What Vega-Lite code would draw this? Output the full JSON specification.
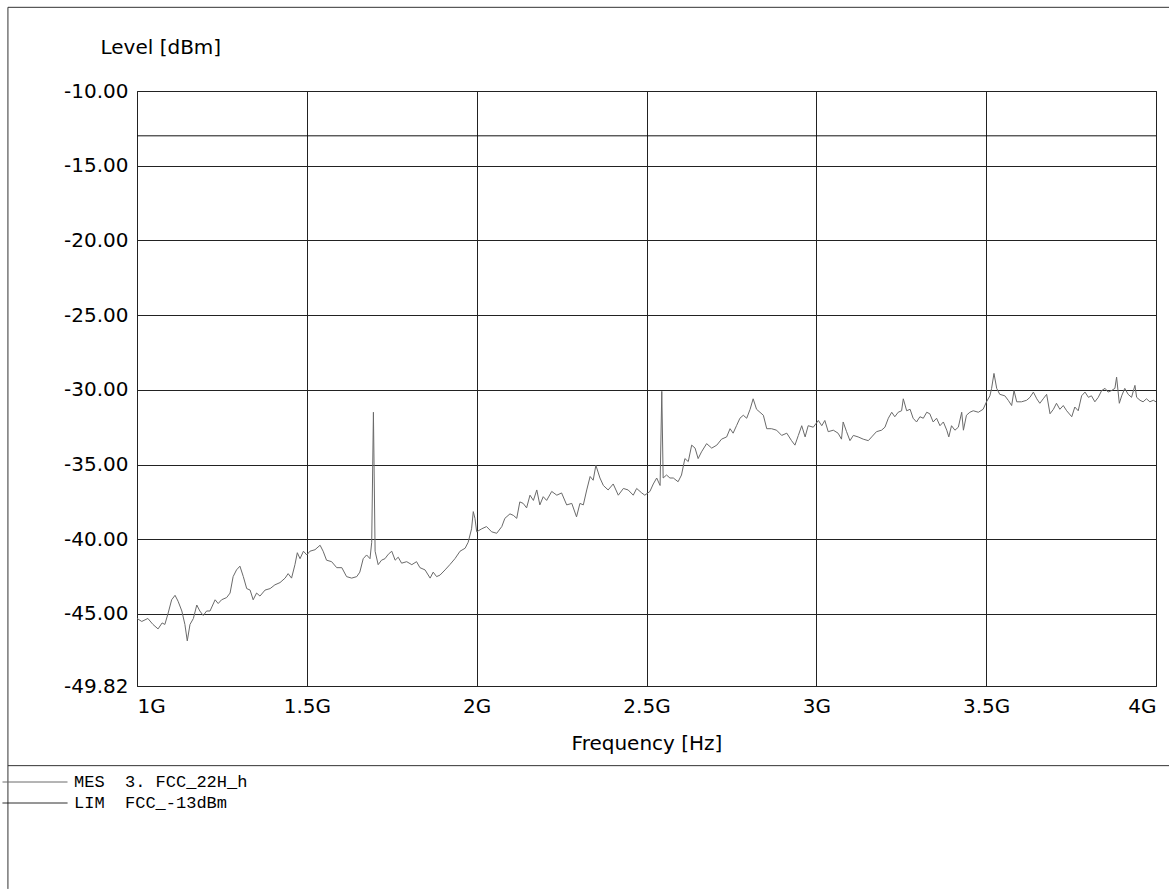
{
  "$schema": "https://vega.github.io/schema/vega-lite/v6.json",
  "width": 1019,
  "height": 595,
  "autosize": "none",
  "padding": {"left": 137, "top": 91, "right": 13, "bottom": 204},
  "background": "white",
  "config": {
    "view": {"stroke": "#222", "strokeWidth": 1},
    "axis": {
      "labelFont": "DejaVu Sans", "labelFontSize": 20, "labelColor": "#000",
      "titleFont": "DejaVu Sans", "titleFontSize": 20, "titleFontWeight": "normal", "titleColor": "#000",
      "ticks": false, "domain": false, "grid": true, "gridColor": "#222", "gridOpacity": 1, "gridWidth": 1
    },
    "legend": {
      "orient": "none", "title": null, "padding": 0,
      "symbolType": "stroke", "symbolSize": 4225, "symbolStrokeWidth": 1,
      "labelFont": "Liberation Mono", "labelFontSize": 17, "labelColor": "#000",
      "labelOffset": 6, "labelLimit": 0
    }
  },
  "datasets": {
    "lim": [
      {"f": 1.0, "level": -13},
      {"f": 4.0, "level": -13}
    ],
    "mes": [
      {"f": 1.000, "level": -45.3},
      {"f": 1.014, "level": -45.5},
      {"f": 1.032, "level": -45.3},
      {"f": 1.047, "level": -45.7},
      {"f": 1.062, "level": -46.0},
      {"f": 1.074, "level": -45.6},
      {"f": 1.082, "level": -45.7},
      {"f": 1.091, "level": -45.0},
      {"f": 1.102, "level": -44.05},
      {"f": 1.112, "level": -43.75},
      {"f": 1.121, "level": -44.15},
      {"f": 1.132, "level": -44.8},
      {"f": 1.141, "level": -45.7},
      {"f": 1.148, "level": -46.8},
      {"f": 1.156, "level": -45.7},
      {"f": 1.166, "level": -45.3},
      {"f": 1.176, "level": -44.4},
      {"f": 1.185, "level": -44.8},
      {"f": 1.195, "level": -45.1},
      {"f": 1.205, "level": -44.8},
      {"f": 1.215, "level": -44.8},
      {"f": 1.230, "level": -44.05},
      {"f": 1.239, "level": -44.3},
      {"f": 1.249, "level": -44.05},
      {"f": 1.264, "level": -43.9},
      {"f": 1.274, "level": -43.6},
      {"f": 1.283, "level": -42.5},
      {"f": 1.293, "level": -42.05},
      {"f": 1.303, "level": -41.8},
      {"f": 1.313, "level": -42.5},
      {"f": 1.323, "level": -43.3},
      {"f": 1.333, "level": -43.4},
      {"f": 1.342, "level": -44.05},
      {"f": 1.352, "level": -43.6},
      {"f": 1.362, "level": -43.8},
      {"f": 1.377, "level": -43.4},
      {"f": 1.392, "level": -43.3},
      {"f": 1.406, "level": -43.05},
      {"f": 1.421, "level": -42.9},
      {"f": 1.436, "level": -42.6},
      {"f": 1.445, "level": -42.3},
      {"f": 1.455, "level": -42.6},
      {"f": 1.465, "level": -41.7},
      {"f": 1.472, "level": -40.9},
      {"f": 1.480, "level": -41.3},
      {"f": 1.490, "level": -40.8},
      {"f": 1.500, "level": -41.05},
      {"f": 1.509, "level": -40.8},
      {"f": 1.524, "level": -40.7},
      {"f": 1.539, "level": -40.4},
      {"f": 1.548, "level": -40.8},
      {"f": 1.558, "level": -41.4},
      {"f": 1.573, "level": -41.5},
      {"f": 1.588, "level": -41.9},
      {"f": 1.603, "level": -41.9},
      {"f": 1.617, "level": -42.5},
      {"f": 1.632, "level": -42.6},
      {"f": 1.647, "level": -42.5},
      {"f": 1.656, "level": -42.2},
      {"f": 1.666, "level": -41.3},
      {"f": 1.676, "level": -41.05},
      {"f": 1.686, "level": -41.3},
      {"f": 1.691, "level": -40.2},
      {"f": 1.696, "level": -31.5},
      {"f": 1.701, "level": -40.8},
      {"f": 1.710, "level": -41.7},
      {"f": 1.720, "level": -41.4},
      {"f": 1.730, "level": -41.3},
      {"f": 1.740, "level": -41.0},
      {"f": 1.750, "level": -40.8},
      {"f": 1.760, "level": -41.4},
      {"f": 1.769, "level": -41.2},
      {"f": 1.779, "level": -41.6},
      {"f": 1.794, "level": -41.5},
      {"f": 1.809, "level": -41.7},
      {"f": 1.823, "level": -41.5},
      {"f": 1.833, "level": -41.9},
      {"f": 1.848, "level": -42.05},
      {"f": 1.863, "level": -42.6},
      {"f": 1.872, "level": -42.2},
      {"f": 1.882, "level": -42.5},
      {"f": 1.892, "level": -42.4},
      {"f": 1.907, "level": -42.05},
      {"f": 1.921, "level": -41.7},
      {"f": 1.936, "level": -41.3},
      {"f": 1.951, "level": -40.8},
      {"f": 1.966, "level": -40.6},
      {"f": 1.975, "level": -40.2},
      {"f": 1.985, "level": -39.3},
      {"f": 1.990, "level": -38.15},
      {"f": 1.995, "level": -38.6},
      {"f": 2.000, "level": -39.5},
      {"f": 2.015, "level": -39.3},
      {"f": 2.029, "level": -39.15},
      {"f": 2.044, "level": -39.5},
      {"f": 2.059, "level": -39.6},
      {"f": 2.074, "level": -39.15},
      {"f": 2.083, "level": -38.6},
      {"f": 2.098, "level": -38.3},
      {"f": 2.108, "level": -38.4},
      {"f": 2.118, "level": -38.6},
      {"f": 2.127, "level": -37.5},
      {"f": 2.137, "level": -37.6},
      {"f": 2.147, "level": -37.9},
      {"f": 2.157, "level": -37.05},
      {"f": 2.167, "level": -37.4},
      {"f": 2.177, "level": -36.7},
      {"f": 2.186, "level": -37.7},
      {"f": 2.196, "level": -37.15},
      {"f": 2.206, "level": -37.4},
      {"f": 2.221, "level": -36.8},
      {"f": 2.236, "level": -37.05},
      {"f": 2.250, "level": -36.9},
      {"f": 2.265, "level": -37.7},
      {"f": 2.280, "level": -37.6},
      {"f": 2.294, "level": -38.5},
      {"f": 2.304, "level": -37.6},
      {"f": 2.314, "level": -37.7},
      {"f": 2.324, "level": -36.7},
      {"f": 2.334, "level": -35.8},
      {"f": 2.343, "level": -36.05},
      {"f": 2.351, "level": -35.05},
      {"f": 2.363, "level": -35.9},
      {"f": 2.373, "level": -36.4},
      {"f": 2.387, "level": -36.7},
      {"f": 2.402, "level": -36.3},
      {"f": 2.417, "level": -37.05},
      {"f": 2.432, "level": -36.6},
      {"f": 2.446, "level": -36.7},
      {"f": 2.461, "level": -37.05},
      {"f": 2.471, "level": -36.6},
      {"f": 2.486, "level": -36.9},
      {"f": 2.495, "level": -37.05},
      {"f": 2.510, "level": -36.8},
      {"f": 2.520, "level": -36.3},
      {"f": 2.530, "level": -35.9},
      {"f": 2.540, "level": -36.4},
      {"f": 2.545, "level": -30.1},
      {"f": 2.549, "level": -35.9},
      {"f": 2.559, "level": -35.7},
      {"f": 2.569, "level": -35.9},
      {"f": 2.579, "level": -35.9},
      {"f": 2.593, "level": -36.15},
      {"f": 2.603, "level": -35.7},
      {"f": 2.613, "level": -34.6},
      {"f": 2.623, "level": -34.8},
      {"f": 2.633, "level": -33.7},
      {"f": 2.643, "level": -33.9},
      {"f": 2.652, "level": -34.6},
      {"f": 2.662, "level": -34.15},
      {"f": 2.677, "level": -33.6},
      {"f": 2.692, "level": -33.9},
      {"f": 2.707, "level": -33.7},
      {"f": 2.721, "level": -33.3},
      {"f": 2.736, "level": -33.15},
      {"f": 2.746, "level": -32.6},
      {"f": 2.755, "level": -32.9},
      {"f": 2.765, "level": -32.4},
      {"f": 2.775, "level": -31.9},
      {"f": 2.785, "level": -31.7},
      {"f": 2.795, "level": -31.9},
      {"f": 2.805, "level": -31.3},
      {"f": 2.814, "level": -30.6},
      {"f": 2.824, "level": -31.3},
      {"f": 2.834, "level": -31.5},
      {"f": 2.844, "level": -31.7},
      {"f": 2.854, "level": -32.6},
      {"f": 2.868, "level": -32.6},
      {"f": 2.883, "level": -32.7},
      {"f": 2.898, "level": -33.05},
      {"f": 2.913, "level": -32.9},
      {"f": 2.927, "level": -33.4},
      {"f": 2.937, "level": -33.7},
      {"f": 2.947, "level": -33.05},
      {"f": 2.957, "level": -32.4},
      {"f": 2.967, "level": -33.15},
      {"f": 2.976, "level": -32.4},
      {"f": 2.991, "level": -32.5},
      {"f": 3.006, "level": -32.05},
      {"f": 3.016, "level": -32.4},
      {"f": 3.025, "level": -32.05},
      {"f": 3.035, "level": -32.8},
      {"f": 3.050, "level": -32.7},
      {"f": 3.064, "level": -32.9},
      {"f": 3.074, "level": -33.3},
      {"f": 3.079, "level": -32.15},
      {"f": 3.089, "level": -32.8},
      {"f": 3.099, "level": -33.4},
      {"f": 3.109, "level": -33.05},
      {"f": 3.123, "level": -33.15},
      {"f": 3.138, "level": -33.3},
      {"f": 3.153, "level": -33.4},
      {"f": 3.163, "level": -33.15},
      {"f": 3.177, "level": -32.8},
      {"f": 3.192, "level": -32.7},
      {"f": 3.202, "level": -32.5},
      {"f": 3.212, "level": -31.9},
      {"f": 3.222, "level": -31.5},
      {"f": 3.231, "level": -31.8},
      {"f": 3.241, "level": -31.5},
      {"f": 3.251, "level": -31.4},
      {"f": 3.256, "level": -30.6},
      {"f": 3.266, "level": -31.4},
      {"f": 3.276, "level": -31.3},
      {"f": 3.285, "level": -31.9},
      {"f": 3.295, "level": -32.15},
      {"f": 3.305, "level": -31.8},
      {"f": 3.315, "level": -31.9},
      {"f": 3.325, "level": -31.5},
      {"f": 3.334, "level": -31.6},
      {"f": 3.344, "level": -32.15},
      {"f": 3.354, "level": -31.9},
      {"f": 3.364, "level": -32.4},
      {"f": 3.374, "level": -32.15},
      {"f": 3.384, "level": -32.7},
      {"f": 3.390, "level": -33.15},
      {"f": 3.398, "level": -32.4},
      {"f": 3.408, "level": -32.7},
      {"f": 3.418, "level": -32.5},
      {"f": 3.428, "level": -31.5},
      {"f": 3.433, "level": -32.7},
      {"f": 3.442, "level": -31.7},
      {"f": 3.452, "level": -31.5},
      {"f": 3.462, "level": -31.4},
      {"f": 3.477, "level": -31.5},
      {"f": 3.491, "level": -31.3},
      {"f": 3.501, "level": -30.8},
      {"f": 3.511, "level": -30.4},
      {"f": 3.516, "level": -29.9},
      {"f": 3.523, "level": -28.9},
      {"f": 3.531, "level": -29.9},
      {"f": 3.540, "level": -30.3},
      {"f": 3.555, "level": -30.4},
      {"f": 3.565, "level": -30.7},
      {"f": 3.575, "level": -31.05},
      {"f": 3.582, "level": -30.05},
      {"f": 3.590, "level": -30.8},
      {"f": 3.604, "level": -30.8},
      {"f": 3.619, "level": -30.7},
      {"f": 3.629, "level": -30.5},
      {"f": 3.639, "level": -30.15},
      {"f": 3.649, "level": -30.6},
      {"f": 3.658, "level": -30.9},
      {"f": 3.668, "level": -30.6},
      {"f": 3.678, "level": -30.3},
      {"f": 3.688, "level": -31.6},
      {"f": 3.698, "level": -31.3},
      {"f": 3.707, "level": -30.9},
      {"f": 3.717, "level": -31.3},
      {"f": 3.727, "level": -31.05},
      {"f": 3.737, "level": -31.4},
      {"f": 3.752, "level": -31.8},
      {"f": 3.761, "level": -31.15},
      {"f": 3.771, "level": -31.4},
      {"f": 3.781, "level": -30.4},
      {"f": 3.791, "level": -30.15},
      {"f": 3.801, "level": -30.5},
      {"f": 3.810, "level": -30.4},
      {"f": 3.820, "level": -30.8},
      {"f": 3.830, "level": -30.5},
      {"f": 3.840, "level": -30.05},
      {"f": 3.850, "level": -29.9},
      {"f": 3.859, "level": -30.15},
      {"f": 3.869, "level": -30.05},
      {"f": 3.879, "level": -29.9},
      {"f": 3.884, "level": -29.15},
      {"f": 3.892, "level": -30.9},
      {"f": 3.899, "level": -30.4},
      {"f": 3.908, "level": -29.9},
      {"f": 3.918, "level": -30.3},
      {"f": 3.928, "level": -30.5},
      {"f": 3.938, "level": -29.7},
      {"f": 3.943, "level": -30.5},
      {"f": 3.953, "level": -30.7},
      {"f": 3.962, "level": -30.8},
      {"f": 3.972, "level": -30.6},
      {"f": 3.982, "level": -30.8},
      {"f": 3.992, "level": -30.7},
      {"f": 4.000, "level": -30.8}
    ]
  },
  "layer": [
    {
      "data": {"name": "lim"},
      "mark": {"type": "line", "strokeWidth": 1, "color": "#111111", "clip": true},
      "encoding": {
        "x": {
          "field": "f", "type": "quantitative",
          "scale": {"domain": [1, 4], "nice": false, "zero": false},
          "axis": {
            "values": [1, 1.5, 2, 2.5, 3, 3.5, 4],
            "labelExpr": "datum.value + 'G'",
            "labelFlush": true,
            "labelPadding": 10,
            "title": "Frequency [Hz]",
            "titleY": 57,
            "titleBaseline": "middle"
          }
        },
        "y": {
          "field": "level", "type": "quantitative",
          "scale": {"domain": [-49.82, -10], "nice": false, "zero": false},
          "axis": {
            "values": [-10, -15, -20, -25, -30, -35, -40, -45, -49.82],
            "labelExpr": "replace(format(datum.value, '.2f'), '\u2212', '-')",
            "labelPadding": 9,
            "labelFlush": false,
            "title": "Level [dBm]",
            "titleAngle": 0,
            "titleX": -37,
            "titleY": -44,
            "titleAlign": "left",
            "titleBaseline": "middle"
          }
        },
        "strokeDash": {
          "datum": "LIM",
          "scale": {"domain": ["LIM"], "range": [[1, 0]]},
          "legend": {
            "legendX": -135,
            "legendY": 679,
            "symbolStrokeColor": "#111111",
            "labelExpr": "'LIM\u00a0\u00a0FCC_-13dBm'"
          }
        }
      }
    },
    {
      "data": {"name": "mes"},
      "mark": {"type": "line", "strokeWidth": 1, "clip": true},
      "encoding": {
        "x": {"field": "f", "type": "quantitative"},
        "y": {"field": "level", "type": "quantitative"},
        "stroke": {
          "datum": "MES",
          "scale": {"domain": ["MES"], "range": ["#6a6a6a"]},
          "legend": {
            "legendX": -135,
            "legendY": 658,
            "labelExpr": "'MES\u00a0\u00a03.\u00a0FCC_22H_h'"
          }
        }
      }
    },
    {
      "data": {"values": [{"edge": "left"}]},
      "mark": {"type": "rule", "stroke": "#333", "strokeWidth": 1, "clip": false},
      "encoding": {
        "x": {"datum": 0.62, "type": "quantitative"},
        "y": {"datum": -4.4, "type": "quantitative"},
        "y2": {"datum": -63.4}
      }
    },
    {
      "data": {"values": [{"edge": "separator"}]},
      "mark": {"type": "rule", "stroke": "#333", "strokeWidth": 1, "clip": false},
      "encoding": {
        "y": {"datum": -55.15, "type": "quantitative"},
        "x": {"datum": 0.62, "type": "quantitative"},
        "x2": {"datum": 4.04}
      }
    },
    {
      "data": {"values": [{"edge": "top"}]},
      "mark": {"type": "rule", "stroke": "#333", "strokeWidth": 1, "clip": false},
      "encoding": {
        "y": {"datum": -4.4, "type": "quantitative"},
        "x": {"datum": 0.62, "type": "quantitative"},
        "x2": {"datum": 4.04}
      }
    }
  ]
}
